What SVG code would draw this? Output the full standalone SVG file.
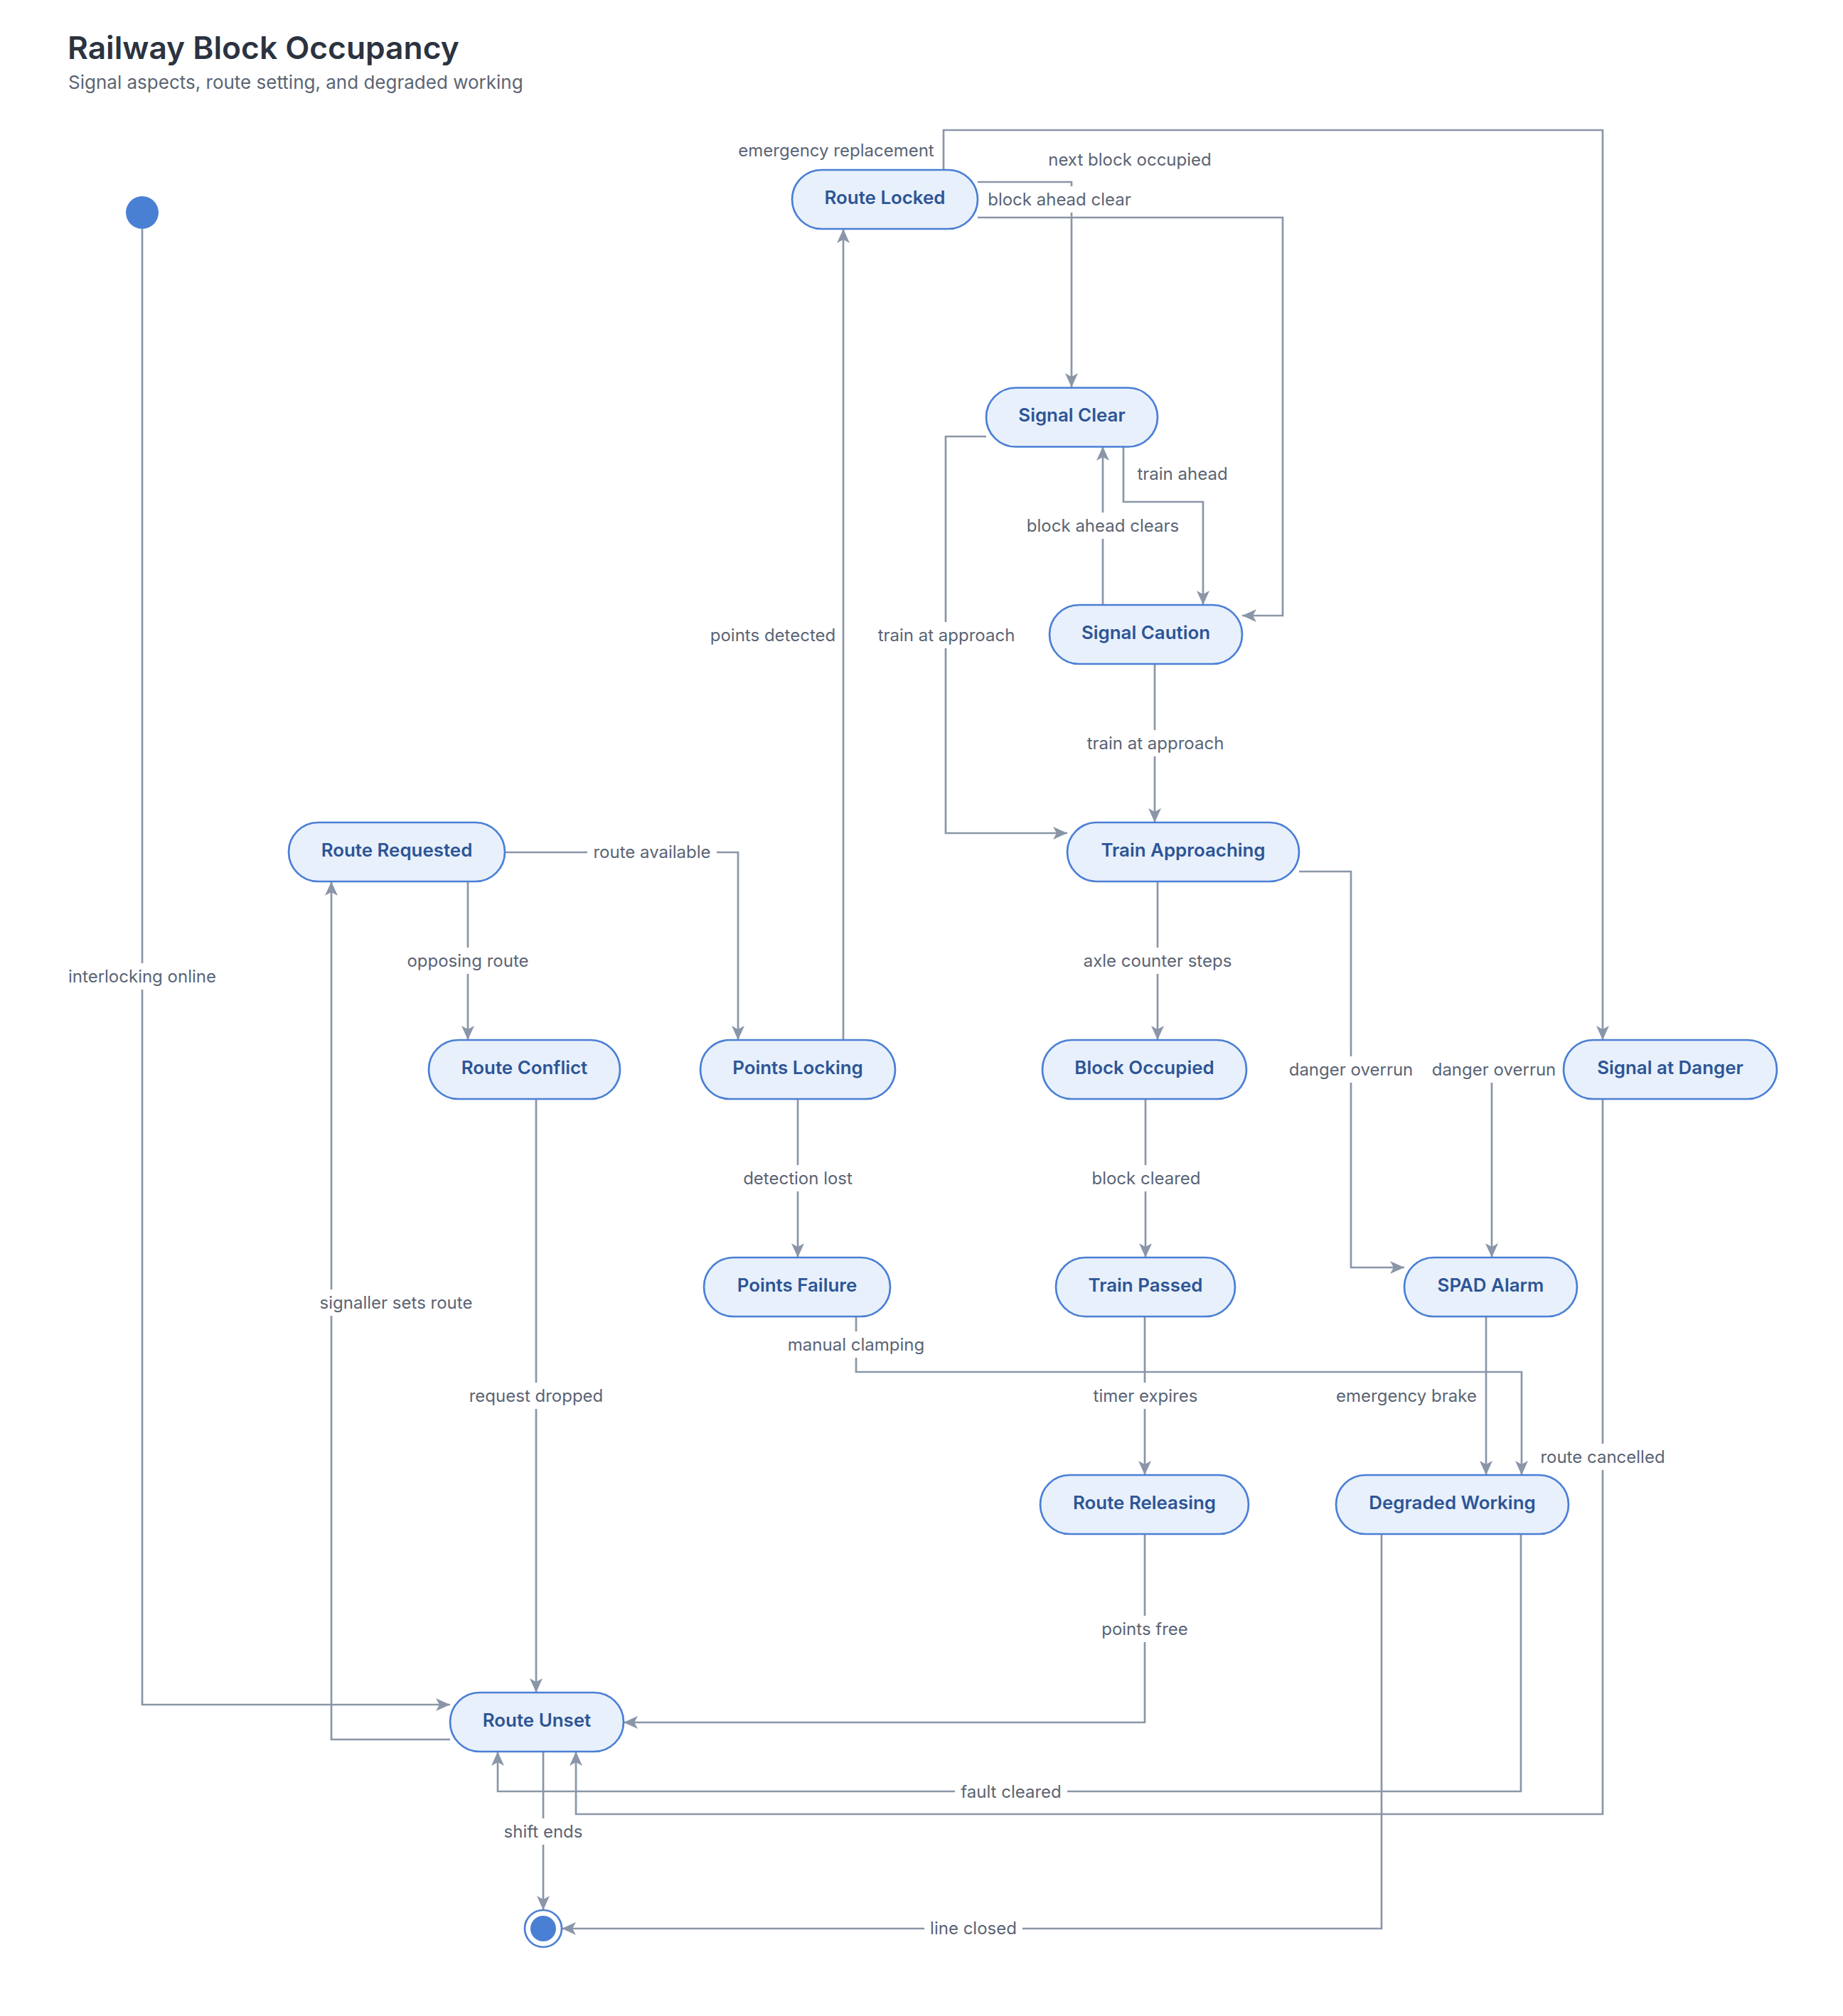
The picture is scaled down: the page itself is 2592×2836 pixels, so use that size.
<svg xmlns="http://www.w3.org/2000/svg" width="2592" height="2836" viewBox="0 0 2592 2836">
<defs>
<style>
.node rect{fill:#E8F0FC;stroke:#4A7FD4;stroke-width:2.7}
.node text{font-family:Inter,'Liberation Sans',sans-serif;font-size:25.9px;font-weight:600;fill:#2D5595;text-anchor:middle}
.edge{fill:none;stroke:#8A96A8;stroke-width:2.7;marker-end:url(#arr)}
.lbl rect{fill:#FFFFFF}
.lbl text{font-family:Inter,'Liberation Sans',sans-serif;font-size:24px;fill:#5A6474;text-anchor:middle}
.title{font-family:Inter,'Liberation Sans',sans-serif;font-size:44.3px;font-weight:600;fill:#2B3340}
.sub{font-family:Inter,'Liberation Sans',sans-serif;font-size:26px;fill:#5B6573}
</style>
<marker id="arr" markerUnits="userSpaceOnUse" markerWidth="20" markerHeight="20" refX="20" refY="10" orient="auto">
<path d="M0,1 L20,10 L0,19 L5,10 Z" fill="#8A96A8"/>
</marker>
</defs>
<rect width="2592" height="2836" fill="#FFFFFF"/>
<text class="title" x="95" y="83">Railway Block Occupancy</text>
<text class="sub" x="96" y="125">Signal aspects, route setting, and degraded working</text>

<g id="connectors">
<path class="edge" d="M200,322 V2398 H633"/>
<path class="edge" d="M633,2447 H466 V1240"/>
<path class="edge" d="M710,1199 H1038 V1463"/>
<path class="edge" d="M658,1240 V1463"/>
<path class="edge" d="M754,1546 V2381"/>
<path class="edge" d="M1186,1463 V322"/>
<path class="edge" d="M1122,1546 V1769"/>
<path class="edge" d="M1204,1852 V1930 H2140 V2075"/>
<path class="edge" d="M1375,256 H1507 V545"/>
<path class="edge" d="M1375,306 H1804 V866 H1747"/>
<path class="edge" d="M1327,239 V183 H2254 V1463"/>
<path class="edge" d="M1580,628 V706 H1692 V851"/>
<path class="edge" d="M1551,851 V628"/>
<path class="edge" d="M1387,614 H1330 V1172 H1501"/>
<path class="edge" d="M1624,934 V1157"/>
<path class="edge" d="M1628,1240 V1463"/>
<path class="edge" d="M1827,1226 H1900 V1783 H1975"/>
<path class="edge" d="M2199,1505 H2098 V1769"/>
<path class="edge" d="M1611,1546 V1769"/>
<path class="edge" d="M1610,1852 V2075"/>
<path class="edge" d="M2090,1852 V2075"/>
<path class="edge" d="M1610,2158 V2423 H877"/>
<path class="edge" d="M2139,2158 V2520 H700 V2464"/>
<path class="edge" d="M2254,1546 V2552 H810 V2464"/>
<path class="edge" d="M1943,2158 V2713 H790"/>
<path class="edge" d="M764,2464 V2687"/>

<g class="lbl">
<rect x="88" y="1355" width="224" height="37"/><text x="200" y="1382">interlocking online</text>
<rect x="442" y="1814" width="230" height="37"/><text x="557" y="1841">signaller sets route</text>
<rect x="826" y="1180" width="182" height="37"/><text x="917" y="1207">route available</text>
<rect x="565" y="1333" width="186" height="37"/><text x="658" y="1360">opposing route</text>
<rect x="653" y="1945" width="203" height="37"/><text x="754" y="1972">request dropped</text>
<rect x="996" y="875" width="182" height="37"/><text x="1087" y="902">points detected</text>
<rect x="1037" y="1639" width="170" height="37"/><text x="1122" y="1666">detection lost</text>
<rect x="1101" y="1873" width="206" height="37"/><text x="1204" y="1900">manual clamping</text>
<rect x="1382" y="262" width="216" height="37"/><text x="1490" y="289">block ahead clear</text>
<rect x="1467" y="206" width="244" height="37"/><text x="1589" y="233">next block occupied</text>
<rect x="1031" y="193" width="290" height="37"/><text x="1176" y="220">emergency replacement</text>
<rect x="1592" y="648" width="143" height="37"/><text x="1663" y="675">train ahead</text>
<rect x="1436" y="721" width="230" height="37"/><text x="1551" y="748">block ahead clears</text>
<rect x="1227" y="875" width="208" height="37"/><text x="1331" y="902">train at approach</text>
<rect x="1521" y="1027" width="208" height="37"/><text x="1625" y="1054">train at approach</text>
<rect x="1516" y="1333" width="224" height="37"/><text x="1628" y="1360">axle counter steps</text>
<rect x="1806" y="1486" width="188" height="37"/><text x="1900" y="1513">danger overrun</text>
<rect x="2005" y="1486" width="194" height="37"/><text x="2101" y="1513">danger overrun</text>
<rect x="1528" y="1639" width="168" height="37"/><text x="1612" y="1666">block cleared</text>
<rect x="1530" y="1945" width="162" height="37"/><text x="1611" y="1972">timer expires</text>
<rect x="1874" y="1945" width="208" height="37"/><text x="1978" y="1972">emergency brake</text>
<rect x="1542" y="2273" width="136" height="37"/><text x="1610" y="2300">points free</text>
<rect x="1343" y="2502" width="158" height="37"/><text x="1422" y="2529">fault cleared</text>
<rect x="2159" y="2031" width="190" height="37"/><text x="2254" y="2058">route cancelled</text>
<rect x="1300" y="2694" width="138" height="37"/><text x="1369" y="2721">line closed</text>
<rect x="701" y="2558" width="126" height="37"/><text x="764" y="2585">shift ends</text>
</g>
</g>

<g id="initial"><circle cx="200" cy="299" r="23" fill="#4A80D4"/></g>
<g id="final"><circle cx="764" cy="2713" r="26" fill="#FFFFFF" stroke="#4A7FD4" stroke-width="2.7"/><circle cx="764" cy="2713" r="18" fill="#4A80D4"/></g>

<g id="route-locked" class="node"><rect x="1114" y="239" width="261" height="83" rx="41.5"/><text x="1244.5" y="286.5">Route Locked</text></g>
<g id="signal-clear" class="node"><rect x="1387" y="545.5" width="241" height="83" rx="41.5"/><text x="1507.5" y="593">Signal Clear</text></g>
<g id="signal-caution" class="node"><rect x="1476" y="851" width="271" height="83" rx="41.5"/><text x="1611.5" y="898.5">Signal Caution</text></g>
<g id="route-requested" class="node"><rect x="406" y="1157" width="304" height="83" rx="41.5"/><text x="558" y="1204.5">Route Requested</text></g>
<g id="train-approaching" class="node"><rect x="1501" y="1157" width="326" height="83" rx="41.5"/><text x="1664" y="1204.5">Train Approaching</text></g>
<g id="route-conflict" class="node"><rect x="603" y="1463" width="269" height="83" rx="41.5"/><text x="737.5" y="1510.5">Route Conflict</text></g>
<g id="points-locking" class="node"><rect x="985" y="1463" width="274" height="83" rx="41.5"/><text x="1122" y="1510.5">Points Locking</text></g>
<g id="block-occupied" class="node"><rect x="1466" y="1463" width="287" height="83" rx="41.5"/><text x="1609.5" y="1510.5">Block Occupied</text></g>
<g id="signal-at-danger" class="node"><rect x="2199" y="1463" width="300" height="83" rx="41.5"/><text x="2349" y="1510.5">Signal at Danger</text></g>
<g id="points-failure" class="node"><rect x="990" y="1769" width="262" height="83" rx="41.5"/><text x="1121" y="1816.5">Points Failure</text></g>
<g id="train-passed" class="node"><rect x="1485" y="1769" width="252" height="83" rx="41.5"/><text x="1611" y="1816.5">Train Passed</text></g>
<g id="spad-alarm" class="node"><rect x="1975" y="1769" width="243" height="83" rx="41.5"/><text x="2096.5" y="1816.5">SPAD Alarm</text></g>
<g id="route-releasing" class="node"><rect x="1463" y="2075" width="293" height="83" rx="41.5"/><text x="1609.5" y="2122.5">Route Releasing</text></g>
<g id="degraded-working" class="node"><rect x="1879" y="2075" width="327" height="83" rx="41.5"/><text x="2042.5" y="2122.5">Degraded Working</text></g>
<g id="route-unset" class="node"><rect x="633" y="2381" width="244" height="83" rx="41.5"/><text x="755" y="2428.5">Route Unset</text></g>
</svg>
